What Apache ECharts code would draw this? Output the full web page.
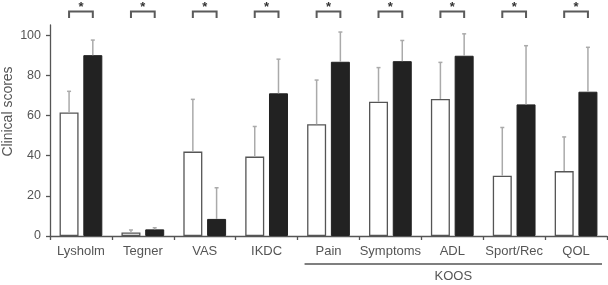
<!DOCTYPE html>
<html><head><meta charset="utf-8">
<script src="https://cdn.jsdelivr.net/npm/echarts@6/dist/echarts.min.js"></script>
<style>html,body{margin:0;padding:0;background:#fff}#c{width:608px;height:285px}</style>
</head><body><div id="c"></div>
<script>
const categories = ['Lysholm','Tegner','VAS','IKDC','Pain','Symptoms','ADL','Sport/Rec','QOL'];
const preMean  = [61.5, 1.8, 42.0, 39.5, 55.6, 66.8, 68.2, 30.0, 32.3];
const preSD    = [10.5, 1.2, 26.0, 15.0, 22.0, 17.0, 18.2, 24.0, 17.0];
const postMean = [90.0, 3.3,  8.5, 71.0, 86.7, 87.0, 89.7, 65.5, 71.8];
const postSD   = [ 7.5, 0.8, 15.5, 17.0, 14.8, 10.3, 10.9, 29.2, 22.1];
const sigMarks = ['*','*','*','*','*','*','*','*','*'];
const yTicks = [0, 20, 40, 60, 80, 100];
const groupLabel = 'KOOS';
const groupFrom = 4, groupTo = 8;
const yAxisTitle = 'Clinical scores';

const BAR_W = 19, GAP = 0.25;
const OFF = (BAR_W + BAR_W * GAP) / 2;
const FONT = '"Liberation Sans", Arial, Helvetica, sans-serif';
const TXT = '#555';

function errSeries(means, sds, sign) {
  return {
    type: 'custom', z: 3,
    data: means.map((m, i) => [i, m, m + sds[i]]),
    renderItem: function (params, api) {
      const b = api.coord([api.value(0), api.value(1)]);
      const t = api.coord([api.value(0), api.value(2)]);
      const x = b[0] + sign * OFF;
      return { type: 'group', children: [
        { type: 'line', shape: { x1: x, y1: b[1], x2: x, y2: t[1] }, style: { stroke: '#aaa', lineWidth: 1.5 } },
        { type: 'line', shape: { x1: x - 2, y1: t[1], x2: x + 2, y2: t[1] }, style: { stroke: '#aaa', lineWidth: 1.5 } }
      ]};
    }
  };
}

const chart = echarts.init(document.getElementById('c'), null, { renderer: 'canvas' });
chart.setOption({
  animation: false,
  grid: { left: 50, right: 1, top: 25, bottom: 49, containLabel: false, outerBoundsMode: 'none' },
  xAxis: {
    type: 'category', data: categories,
    axisLine: { lineStyle: { color: '#555', width: 1.3 } },
    axisTick: { show: true, length: 4, lineStyle: { color: '#555', width: 1.3 } },
    axisLabel: { color: TXT, fontSize: 13, fontFamily: FONT, margin: 9, interval: 0 }
  },
  yAxis: {
    type: 'value', min: 0, max: 105, interval: 20,
    axisLine: { show: true, lineStyle: { color: '#555', width: 1.3 } },
    axisTick: { show: true, length: 4, customValues: yTicks, lineStyle: { color: '#555', width: 1.3 } },
    axisLabel: { color: TXT, fontSize: 12.5, fontFamily: FONT, margin: 9, customValues: yTicks },
    splitLine: { show: false }
  },
  graphic: [{
    type: 'text', x: 8, y: 111.5, rotation: Math.PI / 2,
    style: { text: yAxisTitle, fill: TXT, font: '14px ' + FONT, align: 'center', verticalAlign: 'middle' }
  }],
  series: [
    { type: 'bar', data: preMean, barWidth: BAR_W, barGap: (GAP * 100) + '%',
      itemStyle: { color: '#fff', borderColor: '#555', borderWidth: 1.3 } },
    { type: 'bar', data: postMean, barWidth: BAR_W,
      itemStyle: { color: '#222', borderColor: '#222', borderWidth: 1 } },
    errSeries(preMean, preSD, -1),
    errSeries(postMean, postSD, 1),
    {
      type: 'custom', z: 4, clip: false,
      data: sigMarks.map((s, i) => [i]),
      renderItem: function (params, api) {
        const i = api.value(0);
        const c = api.coord([i, 105]);
        const x1 = c[0] - OFF, x2 = c[0] + OFF;
        const yTop = c[1] - 13.5, yLeg = c[1] - 7;
        return { type: 'group', children: [
          { type: 'polyline', shape: { points: [[x1, yLeg], [x1, yTop], [x2, yTop], [x2, yLeg]] },
            style: { stroke: '#5a5a5a', lineWidth: 2, fill: null } },
          { type: 'text', x: c[0], y: yTop - 4,
            style: { text: sigMarks[i], fill: '#333', font: 'bold 13px ' + FONT, align: 'center', verticalAlign: 'middle' } }
        ]};
      }
    },
    {
      type: 'custom', z: 4, clip: false,
      data: [[groupFrom, groupTo]],
      renderItem: function (params, api) {
        const a = api.coord([api.value(0), 0]);
        const b = api.coord([api.value(1), 0]);
        const band = api.size([1, 0])[0];
        const x1 = a[0] - band / 2 + 7, x2 = b[0] + band / 2 - 5;
        const y = a[1] + 28;
        return { type: 'group', children: [
          { type: 'line', shape: { x1: x1, y1: y, x2: x2, y2: y }, style: { stroke: '#555', lineWidth: 1.3 } },
          { type: 'text', x: (x1 + x2) / 2, y: y + 12,
            style: { text: groupLabel, fill: TXT, font: '13px ' + FONT, align: 'center', verticalAlign: 'middle' } }
        ]};
      }
    }
  ]
});
</script>
</body></html>
